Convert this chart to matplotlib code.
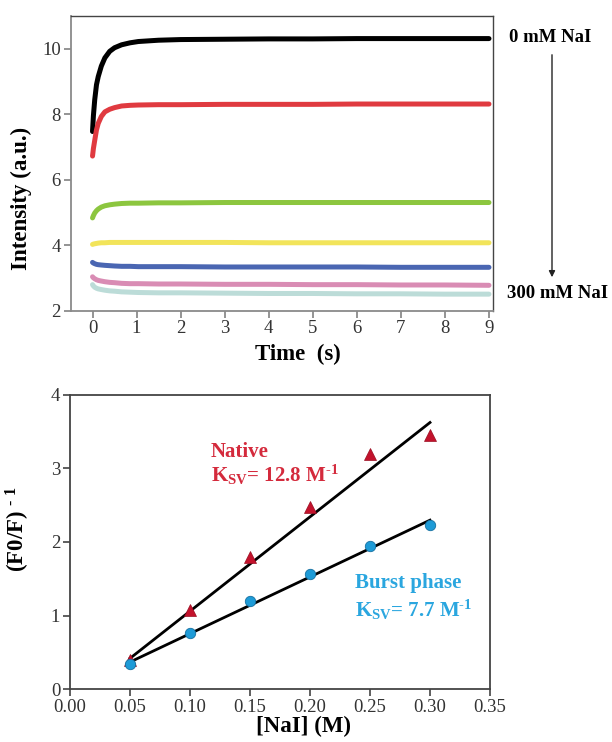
import matplotlib
matplotlib.use("Agg")
import matplotlib.pyplot as plt
import numpy as np

plt.rcParams["font.family"] = ["Liberation Serif", "DejaVu Serif"]
plt.rcParams["mathtext.fontset"] = "custom"
plt.rcParams["mathtext.rm"] = "Liberation Serif:bold"
plt.rcParams["mathtext.it"] = "Liberation Serif:bold"
plt.rcParams["mathtext.bf"] = "Liberation Serif:bold"

# Stopped-flow kinetic traces, intensity vs time for each NaI concentration
trace_labels = ["0 mM", "50 mM", "100 mM", "150 mM", "200 mM", "250 mM", "300 mM"]
trace_colors = ["#000000", "#e03a40", "#8cc63f", "#f2e45a", "#4a66b2", "#d98cb4", "#bcdcd8"]
trace_time = [0.0, 0.02, 0.05, 0.09, 0.13, 0.2, 0.28, 0.39, 0.5, 0.66, 0.85, 1.04, 1.5,
              2.0, 3.0, 4.0, 5.0, 6.0, 7.0, 8.0, 9.0]
trace_black = [7.47, 7.95, 8.44, 8.90, 9.15, 9.47, 9.72, 9.92, 10.03, 10.12, 10.18, 10.22,
               10.26, 10.28, 10.29, 10.30, 10.30, 10.31, 10.31, 10.31, 10.31]
trace_red = [6.72, 6.95, 7.20, 7.52, 7.72, 7.93, 8.07, 8.15, 8.20, 8.25, 8.27, 8.28,
             8.29, 8.29, 8.30, 8.30, 8.30, 8.31, 8.31, 8.31, 8.31]
trace_green = [4.83, 4.90, 4.98, 5.05, 5.10, 5.16, 5.20, 5.23, 5.25, 5.27, 5.28, 5.28,
               5.29, 5.29, 5.30, 5.30, 5.30, 5.30, 5.30, 5.30, 5.30]
trace_yellow = [4.02, 4.03, 4.04, 4.05, 4.06, 4.07, 4.07, 4.08, 4.08, 4.08, 4.08, 4.08,
                4.08, 4.08, 4.08, 4.07, 4.07, 4.07, 4.07, 4.07, 4.07]
trace_blue = [3.47, 3.45, 3.43, 3.41, 3.40, 3.39, 3.38, 3.37, 3.36, 3.35, 3.35, 3.34,
              3.34, 3.34, 3.33, 3.33, 3.33, 3.33, 3.32, 3.32, 3.32]
trace_pink = [3.03, 3.00, 2.97, 2.94, 2.92, 2.90, 2.88, 2.86, 2.85, 2.83, 2.82, 2.82,
              2.81, 2.81, 2.80, 2.80, 2.79, 2.79, 2.78, 2.78, 2.77]
trace_cyan = [2.79, 2.75, 2.71, 2.68, 2.66, 2.64, 2.62, 2.60, 2.59, 2.57, 2.56, 2.55,
              2.54, 2.54, 2.53, 2.52, 2.52, 2.51, 2.51, 2.50, 2.50]
traces = [trace_black, trace_red, trace_green, trace_yellow, trace_blue, trace_pink, trace_cyan]

# Stern-Volmer data
nai_native = [0.05, 0.10, 0.15, 0.20, 0.25, 0.30]
sv_native = [0.40, 1.08, 1.80, 2.47, 3.19, 3.45]
nai_burst = [0.05, 0.10, 0.15, 0.20, 0.25, 0.30]
sv_burst = [0.34, 0.77, 1.20, 1.56, 1.95, 2.23]
ksv_native, icpt_native = 12.8, -0.22
ksv_burst, icpt_burst = 7.7, -0.015
fit_range = [0.05, 0.30]

fig = plt.figure(figsize=(6.12, 7.42), dpi=100)
W, H = 612, 742


def px_axes(left, top, right, bottom):
    return fig.add_axes([left / W, 1 - bottom / H, (right - left) / W, (bottom - top) / H])


# ---- top panel: kinetic traces ----
ax1 = px_axes(70.5, 16, 492.5, 310.5)
for vals, col in zip(traces, trace_colors):
    ax1.plot(trace_time, vals, color=col, lw=3.6, solid_capstyle="round",
             solid_joinstyle="round")
ax1.set_xlim(-0.5, 9.08)
ax1.set_ylim(2, 11)
ax1.set_xticks(range(0, 10))
ax1.set_yticks([2, 4, 6, 8, 10])
for side in ["left", "bottom"]:
    ax1.spines[side].set_color("#8a8a8a")
    ax1.spines[side].set_linewidth(1.3)
for side in ["top", "right"]:
    ax1.spines[side].set_color("#444444")
    ax1.spines[side].set_linewidth(1.0)
ax1.tick_params(direction="out", length=5, width=1.1, color="#777777",
                labelsize=13.5, labelcolor="#333333", pad=2)
ax1.set_xlabel("Time  (s)", fontsize=16.5, fontweight="bold")
ax1.xaxis.set_label_coords(0.539, -0.112)
ax1.set_ylabel("Intensity (a.u.)", fontsize=16.5, fontweight="bold")
ax1.yaxis.set_label_coords(-0.092, 0.382)

fig.text(509 / W, 1 - 38 / H, "0 mM NaI", fontsize=13.5, fontweight="bold",
         ha="left", va="center")
fig.text(507 / W, 1 - 294 / H, "300 mM NaI", fontsize=13.5, fontweight="bold",
         ha="left", va="center")
fig.add_artist(matplotlib.patches.FancyArrowPatch(
    (552 / W, 1 - 52 / H), (552 / W, 1 - 280 / H), transform=fig.transFigure,
    arrowstyle="-|>", mutation_scale=9, color="#222222", lw=1.0))

# ---- bottom panel: Stern-Volmer plot ----
ax2 = px_axes(70, 394.5, 490, 689.3)
ax2.plot(fit_range, [icpt_native + ksv_native * x for x in fit_range],
         color="black", lw=2.0, zorder=2)
ax2.plot(fit_range, [icpt_burst + ksv_burst * x for x in fit_range],
         color="black", lw=2.0, zorder=2)
ax2.plot(nai_native, sv_native, ls="none", marker="^", ms=8.5,
         color="#c3122c", mec="#9a0e22", mew=0.5, zorder=3)
ax2.plot(nai_burst, sv_burst, ls="none", marker="o", ms=7.5,
         color="#1e9bd7", mec="#1670a0", mew=0.6, zorder=4)
ax2.set_xlim(0, 0.35)
ax2.set_ylim(0, 4)
ax2.set_xticks(np.arange(0, 0.351, 0.05))
ax2.set_xticklabels([f"{v:.2f}" for v in np.arange(0, 0.351, 0.05)])
ax2.set_yticks([0, 1, 2, 3, 4])
for side in ax2.spines:
    ax2.spines[side].set_color("#444444")
    ax2.spines[side].set_linewidth(1.3)
ax2.tick_params(direction="out", length=5, width=1.1, color="#333333",
                labelsize=13.5, labelcolor="#333333", pad=2)
ax2.set_xlabel("[NaI] (M)", fontsize=16.5, fontweight="bold")
ax2.xaxis.set_label_coords(0.555, -0.09)
ax2.set_ylabel(r"(F0/F) $^{\text{- 1}}$", fontsize=16.5, fontweight="bold")
ax2.yaxis.set_label_coords(-0.09, 0.544)

red_txt = "#d42a3c"
blue_txt = "#2aa6df"
ax2.text(0.1175, 3.154, "Native", color=red_txt, fontsize=15, fontweight="bold",
         ha="left", va="baseline")
ax2.text(0.1175, 2.815, r"K$_{\text{SV}}$= 12.8 M$^{\text{-1}}$", color=red_txt,
         fontsize=15, fontweight="bold", ha="left", va="baseline")
ax2.text(0.2375, 1.374, "Burst phase", color=blue_txt, fontsize=15, fontweight="bold",
         ha="left", va="baseline")
ax2.text(0.2375, 0.984, r"K$_{\text{SV}}$= 7.7 M$^{\text{-1}}$", color=blue_txt,
         fontsize=15, fontweight="bold", ha="left", va="baseline")

fig.savefig("out.png", dpi=100)
